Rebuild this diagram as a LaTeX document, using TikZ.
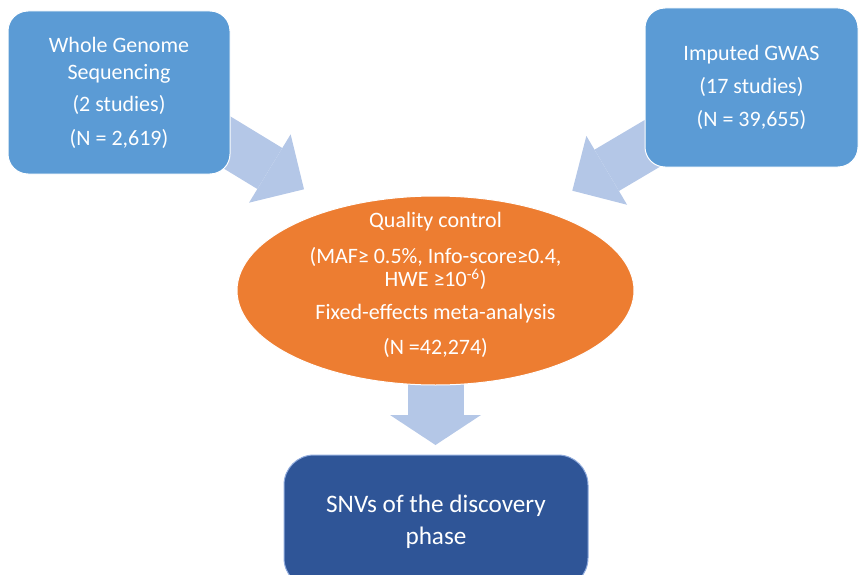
\documentclass[tikz,border=0pt]{standalone}
\usepackage{fontspec}
\setmainfont{Carlito}
\usetikzlibrary{arrows.meta,shapes.geometric,backgrounds}
\definecolor{boxblue}{HTML}{5B9BD5}
\definecolor{darkblue}{HTML}{2F5597}
\definecolor{qcorange}{HTML}{ED7D31}
\definecolor{arrowblue}{HTML}{B4C7E7}
\definecolor{edgeblue}{HTML}{8FAADC}
\tikzset{
    study/.style={rectangle, rounded corners=20pt, fill=boxblue, draw=white, line width=1pt,
        text=white, align=center, inner sep=0pt, font=\fontsize{22}{27}\selectfont},
    fat/.style={draw=arrowblue, line width=48pt, -{Triangle[width=80pt,length=40pt,line width=0pt]}},
}
\begin{document}
    \begin{tikzpicture}[x=1pt,y=-1pt]
        \useasboundingbox (0,0) rectangle (859,575);
        % input studies
        \node[study, minimum width=222pt, minimum height=163pt] (WGS) at (119,92.5)
            {Whole Genome\\Sequencing\\[5pt](2 studies)\\[7pt](N = 2,619)};
        \node[study, minimum width=213pt, minimum height=159pt] (GWAS) at (751.5,87.5)
            {Imputed GWAS\\[6pt](17 studies)\\[6pt](N = 39,655)};
        % meta-analysis
        \node[ellipse, fill=qcorange, draw=white, line width=1pt, inner sep=0pt,
            minimum width=397pt, minimum height=189pt] (QC) at (435.5,290.5) {};
        \node[text=white, align=center, font=\fontsize{22}{23}\selectfont] (QCtext) at (435.5,284.6)
            {Quality control\\[13.5pt](MAF≥ 0.5\%, Info-score≥0.4,\\HWE ≥10\textsuperscript{-6})\\[10pt]%
            Fixed-effects meta-analysis\\[11.5pt](N =42,274)};
        % result
        \node[rectangle, rounded corners=30pt, fill=darkblue, draw=edgeblue, line width=1pt,
            text=white, align=center, font=\fontsize{25.2}{32}\selectfont,
            minimum width=304pt, minimum height=133pt] (SNV) at (436,521.5)
            {SNVs of the discovery\\phase};
        \coordinate (WGStail) at (200,126);
        \coordinate (WGStip) at (304,189.3);
        \coordinate (GWAStail) at (680,127);
        \coordinate (GWAStip) at (572.3,190.7);
        \coordinate (SNVtip) at (435.5,445);
        \begin{scope}[on background layer]
            \draw[fat] (WGStail) -- (WGStip);
            \draw[fat] (GWAStail) -- (GWAStip);
            \draw[fat, line width=56pt, -{Triangle[width=91pt,length=30pt,line width=0pt]}] (QC.center) -- (SNVtip);
        \end{scope}
    \end{tikzpicture}
\end{document}
